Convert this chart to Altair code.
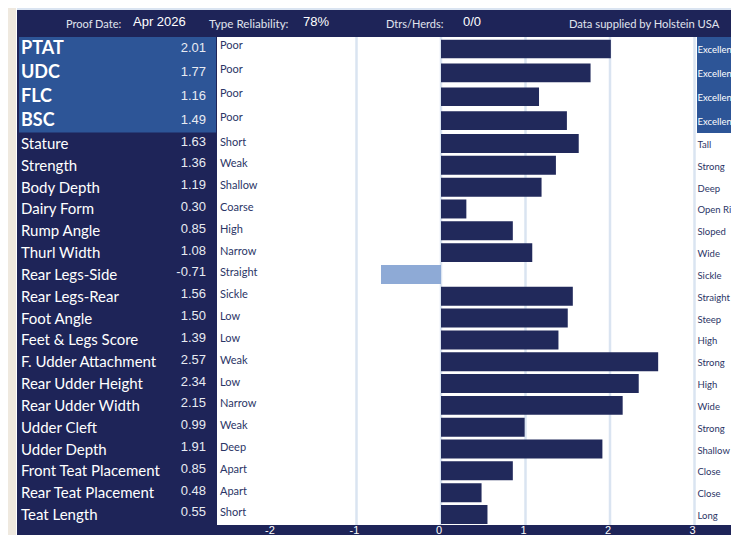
import altair as alt
import pandas as pd

# ---------------- data ----------------
top_traits = ["PTAT", "UDC", "FLC", "BSC"]
top_values = [2.01, 1.77, 1.16, 1.49]
top_low = ["Poor", "Poor", "Poor", "Poor"]
top_high = ["Excellent", "Excellent", "Excellent", "Excellent"]

traits = ["Stature", "Strength", "Body Depth", "Dairy Form", "Rump Angle",
          "Thurl Width", "Rear Legs-Side", "Rear Legs-Rear", "Foot Angle",
          "Feet & Legs Score", "F. Udder Attachment", "Rear Udder Height",
          "Rear Udder Width", "Udder Cleft", "Udder Depth",
          "Front Teat Placement", "Rear Teat Placement", "Teat Length"]
values = [1.63, 1.36, 1.19, 0.30, 0.85, 1.08, -0.71, 1.56, 1.50, 1.39,
          2.57, 2.34, 2.15, 0.99, 1.91, 0.85, 0.48, 0.55]
low = ["Short", "Weak", "Shallow", "Coarse", "High", "Narrow", "Straight",
       "Sickle", "Low", "Low", "Weak", "Low", "Narrow", "Weak", "Deep",
       "Apart", "Apart", "Short"]
high = ["Tall", "Strong", "Deep", "Open Rib", "Sloped", "Wide", "Sickle",
        "Straight", "Steep", "High", "Strong", "High", "Wide", "Strong",
        "Shallow", "Close", "Close", "Long"]

ticks = [-2, -1, 0, 1, 2, 3]
grid = [-1, 0, 1, 2, 3]

header_labels = ["Proof Date:", "Type Reliability:", "Dtrs/Herds:", "Data supplied by Holstein USA"]
header_values = ["Apr 2026", "78%", "0/0"]

# ---------------- styles ----------------
NAVY = "#1e2458"
BAR = "#21295b"
NEG = "#8eaad6"
BLUE = "#2d5597"
LIGHT = "#dae4f1"
BEIGE = "#efe9df"
TXT = "#2b3566"

W, H = 723, 527
one = pd.DataFrame({"k": [0]})

xscale = alt.Scale(domain=[-2, 3], range=[264, 686.5], nice=False, zero=False)
top_y = alt.Scale(type="band", domain=top_traits, range=[29, 124.6],
                  paddingInner=0.22, paddingOuter=0.11)
bot_y = alt.Scale(type="band", domain=traits, range=[124.6, 517.4],
                  paddingInner=0.13, paddingOuter=0.065)


def box(x1, x2, y1, y2, color):
    return alt.Chart(one).mark_rect(color=color).encode(
        x=alt.value(x1), x2=alt.value(x2), y=alt.value(y1), y2=alt.value(y2))


def label(text, x, y, size, color, font="Lato", weight="normal", align="left"):
    return alt.Chart(one).mark_text(
        text=text, align=align, baseline="alphabetic", fontSize=size,
        font=font, fontWeight=weight, color=color).encode(
        x=alt.value(x), y=alt.value(y))


backgrounds = [
    box(0, 8, 0, H, BEIGE),
    box(8, 9, 0, H, "#ffffff"),
    box(9, W, 0, 2, LIGHT),
    box(209, W, 29, 517, "#ffffff"),
    box(11, 208, 29, 124.6, BLUE),
    box(689, W, 29, 125, BLUE),
]

header = [
    label(header_labels[0], 58, 20, 11, "#e0e4ee"),
    label(header_values[0], 125, 18, 13, "#ffffff", font="Liberation Sans"),
    label(header_labels[1], 201, 20, 11.6, "#e0e4ee"),
    label(header_values[1], 295, 18, 13, "#ffffff", font="Liberation Sans"),
    label(header_labels[2], 378, 20, 11, "#e0e4ee"),
    label(header_values[2], 455, 18, 13, "#ffffff", font="Liberation Sans"),
    label(header_labels[3], 561, 20, 11.2, "#e0e4ee"),
]

grid_df = pd.DataFrame({"g": grid})
grid_layer = alt.Chart(grid_df).mark_rule(color=LIGHT, strokeWidth=2.5).encode(
    x=alt.X("g:Q", scale=xscale, axis=None),
    y=alt.value(29), y2=alt.value(517))

tick_df = pd.DataFrame({"t": ticks, "lab": [str(t) for t in ticks]})
tick_layer = alt.Chart(tick_df).mark_text(
    color="#ffffff", fontSize=11, font="Liberation Sans", baseline="middle",
    dx=-2).encode(
    x=alt.X("t:Q", scale=xscale, axis=None),
    y=alt.value(523),
    text="lab:N")


def group(names, vals, lows, highs, yscale, name_size, name_weight, right_color, low_dy, val_dy):
    df = pd.DataFrame({"trait": names, "value": vals, "low": lows, "high": highs,
                       "vtxt": [f"{v:.2f}" for v in vals]})
    base = alt.Chart(df)
    y = alt.Y("trait:N", scale=yscale, axis=None)
    bars = base.mark_bar().encode(
        x=alt.X("value:Q", scale=xscale, axis=None),
        x2=alt.datum(0),
        y=y,
        color=alt.condition(alt.datum.value < 0, alt.value(NEG), alt.value(BAR)))
    nm = base.mark_text(align="left", baseline="middle", fontSize=name_size,
                        font="Lato", fontWeight=name_weight, color="#ffffff", dy=0.5).encode(
        x=alt.value(13), y=y, text="trait:N")
    vl = base.mark_text(align="right", baseline="middle", fontSize=13,
                        font="Liberation Sans", color="#e8ebf2", dy=val_dy).encode(
        x=alt.value(198), y=y, text="vtxt:N")
    lo = base.mark_text(align="left", baseline="middle", fontSize=11,
                        font="Lato", color=TXT, dy=low_dy).encode(
        x=alt.value(212), y=y, text="low:N")
    hi = base.mark_text(align="left", baseline="middle", fontSize=9.5,
                        font="Lato", color=right_color, dy=1.5).encode(
        x=alt.value(689.5), y=y, text="high:N")
    return [bars, nm, vl, lo, hi]


top_layers = group(top_traits, top_values, top_low, top_high, top_y, 18, "bold", "#ffffff", -3, -1)
bot_layers = group(traits, values, low, high, bot_y, 15, "normal", TXT, -1, -2)

chart = alt.layer(
    *backgrounds, grid_layer, *header, tick_layer, *top_layers, *bot_layers
).resolve_scale(y="independent").properties(
    width=W, height=H, background=NAVY, padding=0,
    autosize=alt.AutoSizeParams(type="none")
).configure_view(stroke=None)

chart.save("out.html", embed_options={"renderer": "svg", "actions": False})
